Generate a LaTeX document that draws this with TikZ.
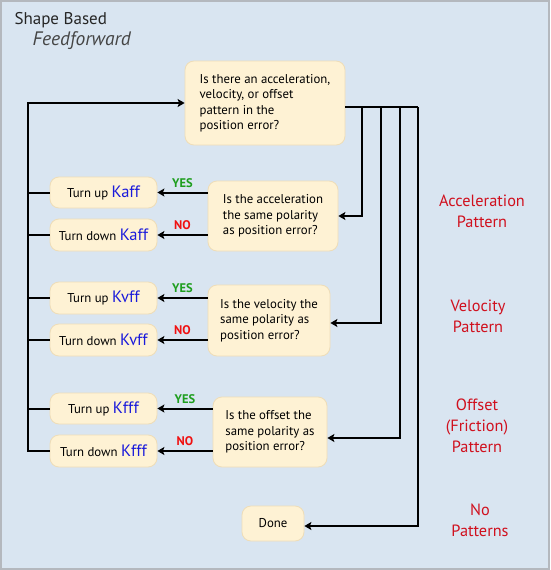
\documentclass[tikz,border=0pt]{standalone}
\usepackage{fontspec}
\setmainfont{PT Sans}
\usetikzlibrary{arrows.meta}
\definecolor{bg}{HTML}{D9E5F1}
\definecolor{frame}{HTML}{B4B8BE}
\definecolor{boxfill}{HTML}{FEF2D4}
\definecolor{boxline}{HTML}{EEDDB8}
\definecolor{kblue}{HTML}{1A1ADB}
\definecolor{patred}{HTML}{D0101E}
\definecolor{yesgreen}{HTML}{1E9E1E}
\definecolor{nored}{HTML}{F01010}
\definecolor{titlegrey}{HTML}{454545}
\newcommand{\kk}[1]{\textcolor{kblue}{\fontsize{16.5}{16.5}\selectfont #1}}
\begin{document}
\begin{tikzpicture}[x=1pt,y=-1pt,
  box/.style={draw=boxline, line width=0.8pt, fill=boxfill, rounded corners=9pt,
    inner sep=0pt, align=left, font=\fontsize{12.8}{15.5}\selectfont, text=black},
  conn/.style={line width=2pt, draw=black},
  arr/.style={conn, -{Stealth[length=7pt,width=8pt,inset=1.5pt]}},
  yes/.style={font=\fontsize{12.5}{12.5}\selectfont\bfseries, text=yesgreen, above=0.5pt},
  no/.style={font=\fontsize{12.5}{12.5}\selectfont\bfseries, text=nored, above=0.5pt},
  pat/.style={font=\fontsize{16.3}{21}\selectfont, text=patred, align=center}
]
\fill[bg] (0,0) rectangle (550,570);
\draw[frame, line width=2pt] (1,1) rectangle (549,569);

\node[anchor=base west, font=\fontsize{17}{17}\selectfont, text=black!85] (t1) at (11,24) {Shape Based};
\node[anchor=base west, font=\fontsize{19.5}{19.5}\selectfont\itshape, text=titlegrey] (t2) at (29,45) {Feedforward};

\node[box, minimum width=160pt, minimum height=84pt] (top) at (265,103)
  {Is there an acceleration,\\velocity, or offset\\pattern in the\\position error?};
\node[box, minimum width=130pt, minimum height=70pt] (q1) at (273,216)
  {Is the acceleration\\the same polarity\\as position error?};
\node[box, minimum width=122pt, minimum height=71pt] (q2) at (269,320.5)
  {Is the velocity the\\same polarity as\\position error?};
\node[box, minimum width=114pt, minimum height=70pt] (q3) at (270,432)
  {Is the offset the\\same polarity as\\position error?};
\node[box, minimum width=62pt, minimum height=35pt] (done) at (273,523.5) {Done};

\node[box, minimum width=107pt, minimum height=31pt] (tua) at (103.5,192.5) {Turn up \kk{Kaff}};
\node[box, minimum width=107pt, minimum height=32pt] (tda) at (103.5,235) {Turn down \kk{Kaff}};
\node[box, minimum width=107pt, minimum height=32pt] (tuv) at (103.5,298) {Turn up \kk{Kvff}};
\node[box, minimum width=107pt, minimum height=32pt] (tdv) at (103.5,340) {Turn down \kk{Kvff}};
\node[box, minimum width=107pt, minimum height=31pt] (tuf) at (103.5,408.5) {Turn up \kk{Kfff}};
\node[box, minimum width=107pt, minimum height=32pt] (tdf) at (103.5,451) {Turn down \kk{Kfff}};

\node[pat] (pa) at (482,211) {Acceleration\\Pattern};
\node[pat] (pv) at (478,316) {Velocity\\Pattern};
\node[pat] (po) at (477,426) {Offset\\(Friction)\\Pattern};
\node[pat] (pn) at (480,520) {No\\Patterns};

% left return line
\coordinate (lt) at (28,103);
\draw[arr] (tdf.west) -| (lt) -- (top.west);
\foreach \n in {tua,tda,tuv,tdv,tuf}{\draw[conn] (\n.west) -- (\n.west -| lt);}

% yes / no arrows
\draw[arr] (q1.west |- tua.east) -- node[yes]{YES} (tua.east);
\draw[arr] (q1.west |- tda.east) -- node[no]{NO} (tda.east);
\draw[arr] (q2.west |- tuv.east) -- node[yes]{YES} (tuv.east);
\draw[arr] (q2.west |- tdv.east) -- node[no]{NO} (tdv.east);
\draw[arr] (q3.west |- tuf.east) -- node[yes]{YES} (tuf.east);
\draw[arr] (q3.west |- tdf.east) -- node[no]{NO} (tdf.east);

% right distribution lines
\coordinate (j1) at (362,107);
\coordinate (j2) at (381,107);
\coordinate (j3) at (400,107);
\coordinate (j4) at (418,107);
\draw[conn] ([yshift=-4pt]top.east) -- (j4);
\draw[arr] (j1) |- (q1.east);
\draw[arr] (j2) |- ([yshift=-2.5pt]q2.east);
\draw[arr] (j3) |- ([yshift=-6pt]q3.east);
\draw[arr] (j4) |- ([yshift=-2.5pt]done.east);
\end{tikzpicture}
\end{document}
